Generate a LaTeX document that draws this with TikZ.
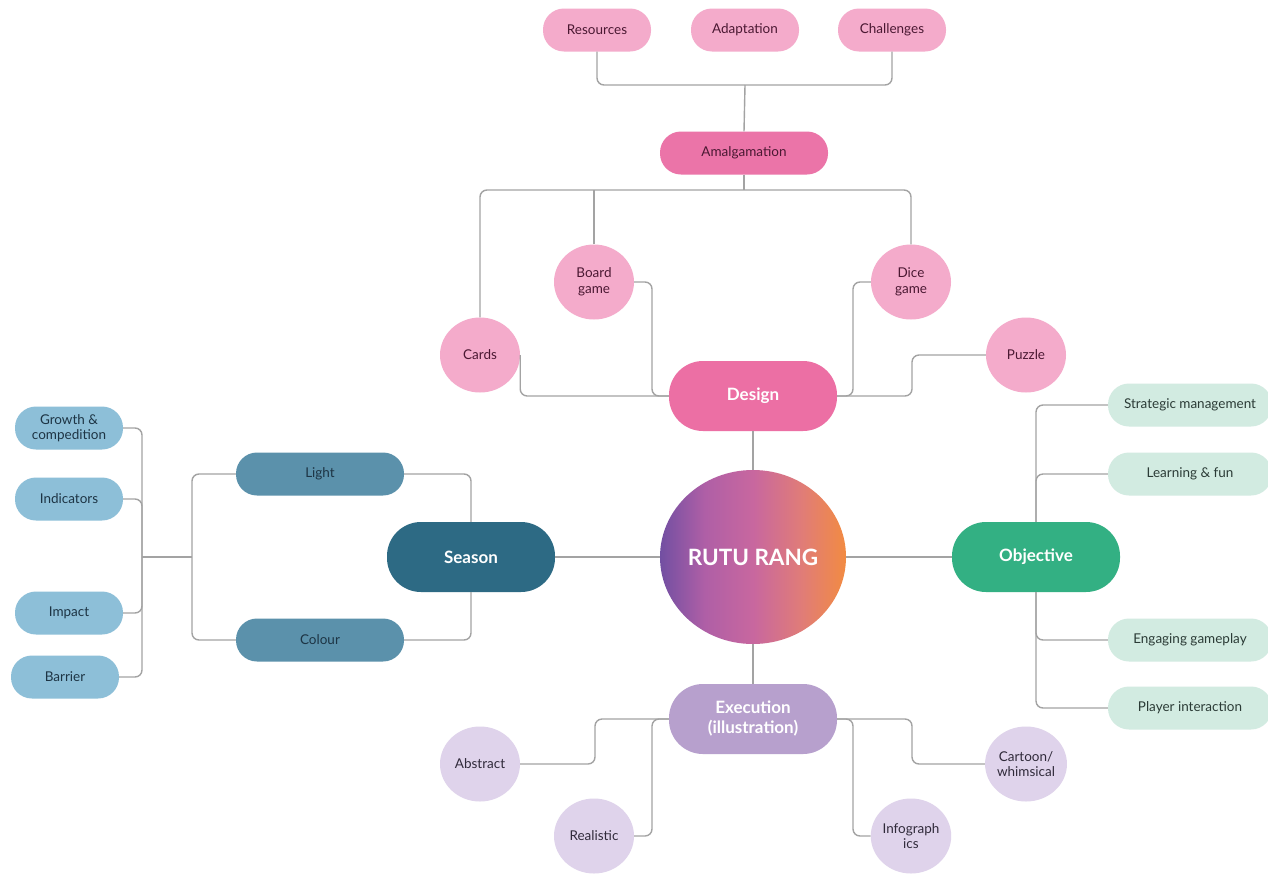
\documentclass[tikz,border=0pt]{standalone}
\usepackage{fontspec}
\setmainfont{Lato}
\usetikzlibrary{shapes.geometric}
\definecolor{linegray}{HTML}{A3A3A3}
\definecolor{pinkLight}{HTML}{F4ABCB}
\definecolor{pinkMid}{HTML}{EB74A8}
\definecolor{designC}{HTML}{EC6FA4}
\definecolor{pinkText}{HTML}{4A1832}
\definecolor{seasonC}{HTML}{2D6A84}
\definecolor{blueMid}{HTML}{5B91AB}
\definecolor{blueLight}{HTML}{8DBFD8}
\definecolor{blueText}{HTML}{1D3444}
\definecolor{objC}{HTML}{33B083}
\definecolor{mint}{HTML}{D2EBE1}
\definecolor{mintText}{HTML}{2B3B36}
\definecolor{execC}{HTML}{B7A0CD}
\definecolor{lav}{HTML}{DFD3EB}
\definecolor{lavText}{HTML}{302A3A}
\definecolor{rPurple}{HTML}{724FA2}
\definecolor{rPurPink}{HTML}{AF5FA6}
\definecolor{rPink}{HTML}{C8679F}
\definecolor{rSalmon}{HTML}{E07C78}
\definecolor{rOrange}{HTML}{F28B42}
\pgfdeclarehorizontalshading{rutushade}{100bp}{color(0bp)=(rPurple); color(25bp)=(rPurple); color(37bp)=(rPurPink); color(50bp)=(rPink); color(63bp)=(rSalmon); color(75bp)=(rOrange); color(100bp)=(rOrange)}
\begin{document}
\begin{tikzpicture}[x=1pt,y=-1pt,
  conn/.style={draw=linegray, line width=1.4pt, rounded corners=7pt},
  leaf/.style={rectangle, rounded corners=21pt, minimum width=108pt, minimum height=43pt, inner sep=0pt, align=center, font=\fontsize{13.5}{15.5}\selectfont},
  mid/.style={rectangle, rounded corners=21pt, minimum width=168pt, minimum height=43pt, inner sep=0pt, align=center, font=\fontsize{13.5}{15.5}\selectfont},
  main/.style={rectangle, rounded corners=34pt, minimum width=168pt, minimum height=70pt, inner sep=0pt, align=center, text=white, font=\fontsize{17}{20}\selectfont\bfseries},
  bub/.style={ellipse, minimum width=80pt, minimum height=75pt, inner sep=0pt, align=center, font=\fontsize{13.5}{15.5}\selectfont},
  pinkleaf/.style={fill=pinkLight, text=pinkText},
  blueleaf/.style={fill=blueLight, text=blueText},
  mintleaf/.style={leaf, fill=mint, text=mintText, minimum width=164pt},
  lavbub/.style={bub, fill=lav, text=lavText}
]
\useasboundingbox (0,0) rectangle (1268,873);
\fill[white] (0,0) rectangle (1268,873);

% centre
\node[ellipse, minimum width=186pt, minimum height=174pt, inner sep=0pt,
  shading=rutushade, text=white, font=\fontsize{22.5}{26}\selectfont\bfseries] (rutu) at (753,557) {RUTU RANG};

% main branches
\node[main, fill=designC] (design) at (753,396) {Design};
\node[main, fill=seasonC] (season) at (471,557) {Season};
\node[main, fill=objC] (obj) at (1036,557) {Objective};
\node[main, fill=execC] (exec) at (753,719) {Execution\\(illustration)};

% design subtree
\node[mid, fill=pinkMid, text=pinkText] (amal) at (744,153) {Amalgamation};
\node[leaf, pinkleaf] (res) at (597,30) {Resources};
\node[leaf, pinkleaf] (adapt) at (745,30) {Adaptation};
\node[leaf, pinkleaf] (chal) at (892,30) {Challenges};
\node[bub, pinkleaf] (cards) at (480,355) {Cards};
\node[bub, pinkleaf] (board) at (594,282) {Board\\game};
\node[bub, pinkleaf] (dice) at (911,282) {Dice\\game};
\node[bub, pinkleaf] (puzzle) at (1026,355) {Puzzle};

% season subtree
\node[mid, fill=blueMid, text=blueText] (light) at (320,474) {Light};
\node[mid, fill=blueMid, text=blueText] (colour) at (320,640) {Colour};
\node[leaf, blueleaf] (growth) at (69,428) {Growth \&\\compedition};
\node[leaf, blueleaf] (indic) at (69,499) {Indicators};
\node[leaf, blueleaf] (impact) at (69,613) {Impact};
\node[leaf, blueleaf] (barrier) at (65,677) {Barrier};

% objective subtree
\node[mintleaf] (strat) at (1190,405) {Strategic management};
\node[mintleaf] (learn) at (1190,474) {Learning \& fun};
\node[mintleaf] (engage) at (1190,640) {Engaging gameplay};
\node[mintleaf] (player) at (1190,708) {Player interaction};

% execution subtree
\node[lavbub] (abstract) at (480,764) {Abstract};
\node[lavbub] (real) at (594,836) {Realistic};
\node[lavbub] (info) at (911,836) {Infograph\\ics};
\node[lavbub] (cartoon) at (1026,764) {Cartoon/\\whimsical};

% junction coordinates
\coordinate (jt) at (745,85);
\coordinate (jb) at (744,190);
\coordinate (bx) at (652,396);
\coordinate (dx) at (853,396);
\coordinate (px) at (912,396);
\coordinate (sj) at (192,557);
\coordinate (lj) at (142,557);
\coordinate (ax) at (595,719);
\coordinate (rx) at (652,719);
\coordinate (ix) at (853,719);
\coordinate (cx) at (912,719);

% connectors: top
\draw[conn] (res.south) |- (jt) -| (chal.south);
\draw[conn] (jt) -- (amal.north);
\draw[conn] (amal.south) -- (jb);
\draw[conn] (cards.north) |- (jb) -| (dice.north);
\draw[conn] (board.north) -- (board.north |- jb);
% to design
\draw[conn] (cards.east) |- (design.west);
\draw[conn] (board.east) -| (bx) -- (design.west);
\draw[conn] (dice.west) -| (dx) -- (design.east);
\draw[conn] (puzzle.west) -| (px) -- (design.east);
\draw[conn] (design.south) -- (rutu.north);
% season
\draw[conn] (rutu.west) -- (season.east);
\draw[conn] (season.north) |- (light.east);
\draw[conn] (season.south) |- (colour.east);
\draw[conn] (light.west) -| (sj) |- (colour.west);
\draw[conn] (sj) -- (lj);
\draw[conn] (growth.east) -| (lj) |- (barrier.east);
\draw[conn] (indic.east) -| (lj);
\draw[conn] (impact.east) -| (lj);
% objective
\draw[conn] (rutu.east) -- (obj.west);
\draw[conn] (obj.north) |- (strat.west);
\draw[conn] (obj.north) |- (learn.west);
\draw[conn] (obj.south) |- (engage.west);
\draw[conn] (obj.south) |- (player.west);
% execution
\draw[conn] (rutu.south) -- (exec.north);
\draw[conn] (abstract.east) -| (ax) -- (exec.west);
\draw[conn] (real.east) -| (rx) -- (exec.west);
\draw[conn] (exec.east) -- (ix) |- (info.west);
\draw[conn] (exec.east) -- (cx) |- (cartoon.west);
\end{tikzpicture}
\end{document}
